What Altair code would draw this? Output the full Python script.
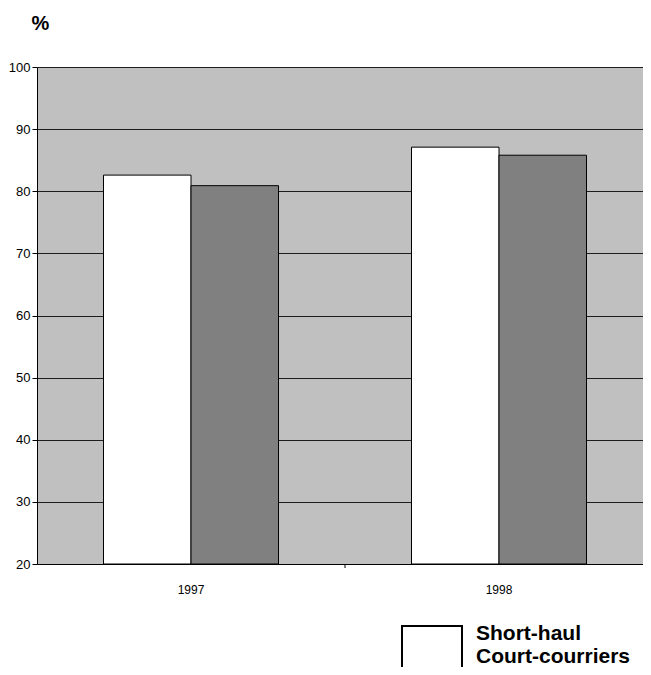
import altair as alt
import pandas as pd

years = ["1997", "1998"]
series = ["Short-haul", "Long-haul"]
short_haul = [82.6, 87.1]
long_haul = [80.9, 85.8]
y_ticks = [20, 30, 40, 50, 60, 70, 80, 90, 100]

rows = []
for i, yr in enumerate(years):
    rows.append({"year": yr, "series": series[0], "value": short_haul[i]})
    rows.append({"year": yr, "series": series[1], "value": long_haul[i]})
df = pd.DataFrame(rows)

FONT = "Liberation Sans"

x_enc = alt.X("year:N", sort=years,
              scale=alt.Scale(paddingInner=0, paddingOuter=0, range=[0, 616]),
              axis=alt.Axis(title=None, ticks=False, labelAngle=0, labelFontSize=12,
                            labelPadding=20, domainColor="black", labelColor="black",
                            labelFont=FONT))

box_path = "M-1,-0.267L1,-0.267L1,1.733L-1,1.733Z"

bars = alt.Chart(df).mark_bar(stroke="black", strokeWidth=1).encode(
    x=x_enc,
    xOffset=alt.XOffset("series:N", sort=series,
                        scale=alt.Scale(paddingOuter=0.76, paddingInner=0)),
    y=alt.Y("value:Q",
            scale=alt.Scale(domain=[20, 100], nice=False, zero=False),
            axis=alt.Axis(values=y_ticks, title="%", titleAngle=0, titleX=3, titleY=-38,
                          titleAlign="center", titleBaseline="alphabetic",
                          titleFontSize=20, titleFontWeight="bold", titleFont=FONT,
                          titleColor="black",
                          labelFontSize=13, labelFont=FONT, labelColor="black",
                          labelPadding=2, tickSize=5, tickColor="black",
                          domainColor="black", gridColor="black", gridOpacity=0.85,
                          grid=True)),
    y2=alt.Y2(datum=20),
    color=alt.Color("series:N", sort=series,
                    scale=alt.Scale(domain=series, range=["#ffffff", "#808080"]),
                    legend=alt.Legend(
                        title=None, orient="none", legendX=364, legendY=536,
                        values=["Short-haul"],
                        symbolType=box_path, symbolSize=3600,
                        symbolStrokeColor="black", symbolStrokeWidth=2,
                        labelFontSize=21, labelFontWeight="bold", labelFont=FONT,
                        labelColor="black", labelOffset=13, labelLimit=400,
                        padding=0,
                        labelExpr="datum.label == 'Short-haul' ? ['Short-haul', 'Court-courriers'] : ['Long-haul', 'Long-courriers']")),
)

tick_df = pd.DataFrame({"year": [years[1]]})
tick = alt.Chart(tick_df).mark_rule(color="black", strokeWidth=1).encode(
    x=alt.X("year:N", sort=years, bandPosition=0),
    y=alt.value(497),
    y2=alt.value(501),
)

chart = alt.layer(bars, tick).properties(
    width=606, height=497,
    autosize=alt.AutoSizeParams(type="none"),
    padding={"left": 29, "top": 59, "right": 0, "bottom": 103},
    background="white",
).configure_view(fill="#c0c0c0", strokeWidth=0)

chart.save("out.html", embed_options={"renderer": "svg", "actions": False})
